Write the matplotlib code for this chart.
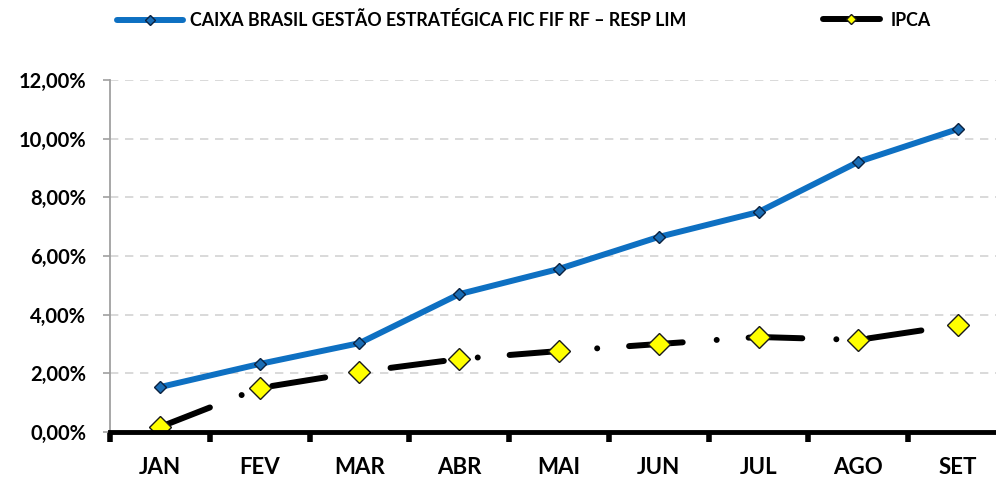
import matplotlib.pyplot as plt
from matplotlib.lines import Line2D

months = ['JAN', 'FEV', 'MAR', 'ABR', 'MAI', 'JUN', 'JUL', 'AGO', 'SET']
caixa = [1.53, 2.32, 3.03, 4.70, 5.56, 6.65, 7.50, 9.21, 10.33]
ipca = [0.17, 1.50, 2.05, 2.49, 2.76, 3.00, 3.24, 3.14, 3.65]
yticks = [0, 2, 4, 6, 8, 10, 12]

caixa_label = 'CAIXA BRASIL GESTÃO ESTRATÉGICA FIC FIF RF – RESP LIM'
ipca_label = 'IPCA'

plt.rcParams['font.family'] = ['Lato', 'DejaVu Sans']
plt.rcParams['font.weight'] = 'bold'

fig = plt.figure(figsize=(9.96, 4.78), dpi=100)
ax = fig.add_axes([0.1104, 0.0962, 0.9016, 0.7364])

x = list(range(len(months)))

# blue line
ax.plot(x, caixa, color='#0E70C2', lw=4.3, solid_capstyle='round',
        marker='D', ms=6, markerfacecolor='#1A6DB5', markeredgecolor='#0B2240',
        markeredgewidth=1.0, zorder=3)

# ipca long dash - dot
ax.plot(x, ipca, color='black', lw=4.3, dashes=(9.0, 5.7, 0.01, 5.35),
        dash_capstyle='round', marker='D', ms=11, markerfacecolor='#FFFF00',
        markeredgecolor='#1A1A1A', markeredgewidth=1.0, zorder=4)

ax.set_xlim(-0.5, 8.5)
ax.set_ylim(0, 12)
ax.set_yticks(yticks)
ax.set_yticklabels(['%d,00%%' % v for v in yticks], fontsize=14.5, fontweight='bold')
ax.set_xticks(x)
ax.set_xticklabels(months, fontsize=16, fontweight='bold')
ax.tick_params(axis='x', length=0, pad=18)
ax.set_xticks([i + 0.5 for i in range(-1, 9)], minor=True)
ax.tick_params(axis='x', which='minor', length=7, width=4, color='black', direction='out')
ax.tick_params(axis='y', length=5, width=1.2, color='#A0A0A0', pad=12)

for v in yticks[1:]:
    ax.axhline(v, color='#D3D3D3', lw=1.2, dashes=(5, 4), zorder=1)

for s in ['top', 'right']:
    ax.spines[s].set_visible(False)
ax.spines['left'].set_color('#A0A0A0')
ax.spines['left'].set_linewidth(1.3)
ax.spines['bottom'].set_color('black')
ax.spines['bottom'].set_linewidth(3.5)
ax.spines['bottom'].set_zorder(5)

h1 = Line2D([], [], color='#0E70C2', lw=4.3, solid_capstyle='round', marker='D', ms=5,
            markerfacecolor='#1A6DB5', markeredgecolor='#0B2240')
h2 = Line2D([], [], color='black', lw=4.3, solid_capstyle='round', marker='D', ms=5,
            markerfacecolor='#FFFF00', markeredgecolor='#1A1A1A')
fig.legend([h1], [caixa_label], loc='center left', bbox_to_anchor=(0.1175, 0.958),
           frameon=False, borderpad=0, borderaxespad=0, handlelength=3.7,
           handletextpad=0.4, prop={'size': 12.8, 'weight': 'bold'})
fig.legend([h2], [ipca_label], loc='center left', bbox_to_anchor=(0.826, 0.958),
           frameon=False, borderpad=0, borderaxespad=0, handlelength=3.2,
           handletextpad=0.6, prop={'size': 12.8, 'weight': 'bold'})

fig.savefig('out.png', dpi=100)
